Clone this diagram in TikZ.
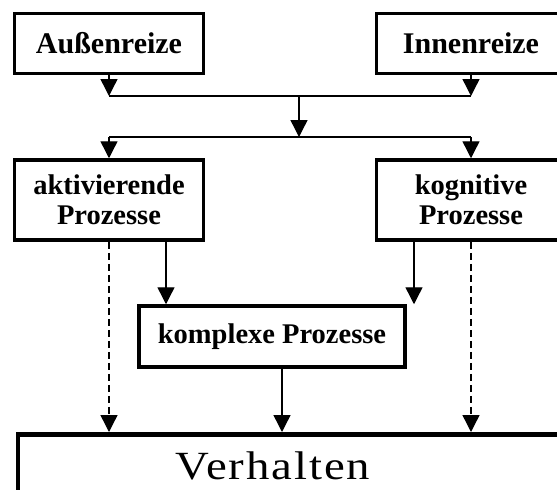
\documentclass[tikz,border=0pt]{standalone}
\usepackage{fontspec}
\setmainfont{Liberation Serif}
\usetikzlibrary{arrows.meta}
\begin{document}
\begin{tikzpicture}[x=1pt,y=-1pt,
  box/.style={draw, line width=3.5pt, rectangle, inner sep=0pt, align=center,
    font=\fontsize{28.5}{30}\selectfont\bfseries},
  arr/.style={line width=1.4pt, -{Triangle[width=17pt,length=17pt]}},
  plain/.style={line width=1.4pt},
  dasharr/.style={line width=1.4pt, dash pattern=on 7pt off 4pt, -{Triangle[width=17pt,length=17pt]}}]
\useasboundingbox (0,0) rectangle (557,490);
\clip (0,0) rectangle (557,490);
\fill[white] (0,0) rectangle (557,490);

\node[box, minimum width=189pt, minimum height=60pt, font=\fontsize{30}{30}\selectfont\bfseries] (aussen) at (109,43.5) {Außenreize};
\node[box, minimum width=189pt, minimum height=60pt, font=\fontsize{30}{30}\selectfont\bfseries] (innen) at (471,43.5) {Innenreize};
\node[box, minimum width=189pt, minimum height=80pt] (aktiv) at (109,200) {aktivierende\\Prozesse};
\node[box, minimum width=189pt, minimum height=80pt] (kogn) at (471,200) {kognitive\\Prozesse};
\node[box, minimum width=266pt, minimum height=61pt] (komplex) at (272,336.5) {komplexe Prozesse};
\node[draw, line width=4.5pt, rectangle, minimum width=620pt, minimum height=140pt, anchor=north west] (verh) at (15.5,432) {};
\node[font=\fontsize{40}{44}\selectfont] (verhtext) at (273,466) {\scalebox{1.17}[1]{\addfontfeature{LetterSpace=4}Verhalten}};

\coordinate (m1) at (299,96);
\coordinate (m2) at (299,137);

\draw[arr] (aussen.south) -- (aussen.south |- m1);
\draw[arr] (innen.south) -- (innen.south |- m1);
\draw[plain] (aussen.south |- m1) -- (innen.south |- m1);
\draw[arr] (m1) -- (m2);
\draw[plain] (aussen.south |- m2) -- (innen.south |- m2);
\draw[arr] (aussen.south |- m2) -- (aktiv.north);
\draw[arr] (innen.south |- m2) -- (kogn.north);

\draw[arr] ([xshift=57pt]aktiv.south) -- ([xshift=57pt]aktiv.south |- komplex.north);
\draw[arr] ([xshift=-57pt]kogn.south) -- ([xshift=-57pt]kogn.south |- komplex.north);
\draw[dasharr] (aktiv.south) -- (aktiv.south |- verh.north);
\draw[dasharr] (kogn.south) -- (kogn.south |- verh.north);
\draw[arr] ([xshift=10pt]komplex.south) -- ([xshift=10pt]komplex.south |- verh.north);
\end{tikzpicture}
\end{document}
